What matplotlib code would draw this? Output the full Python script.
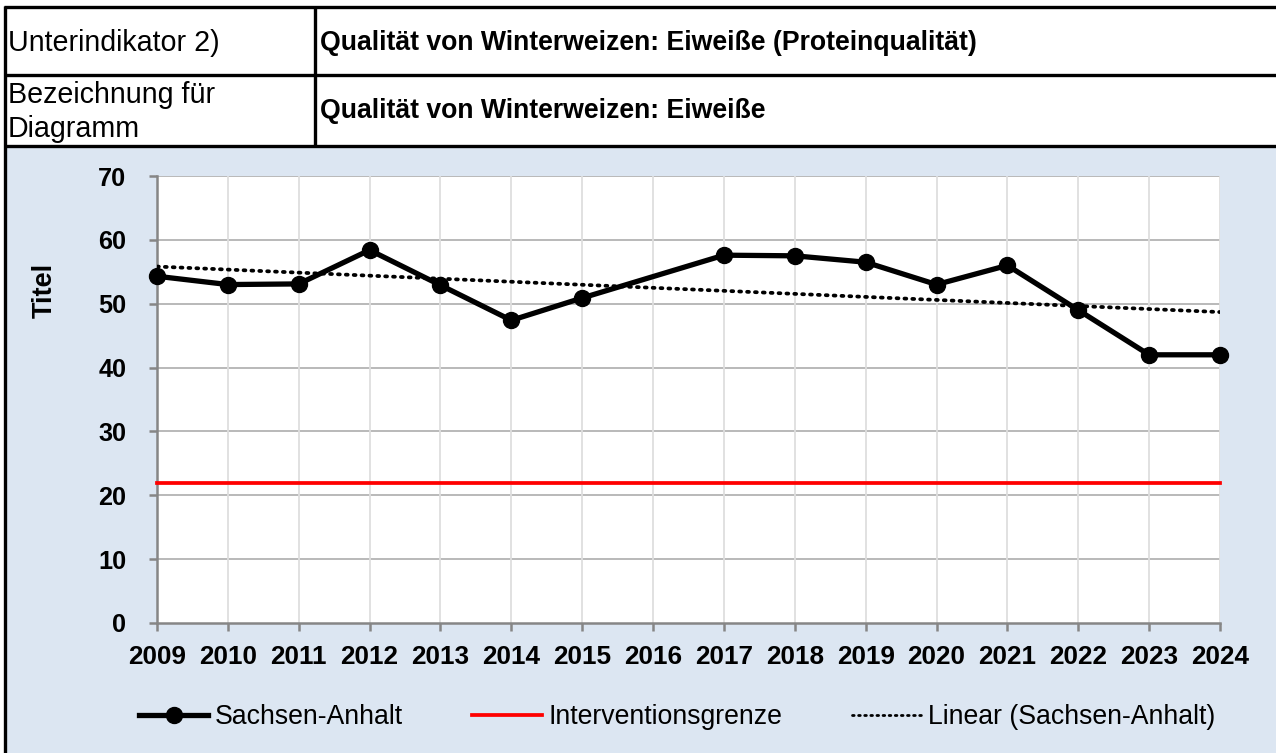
import numpy as np
import matplotlib
matplotlib.use("Agg")
import matplotlib.pyplot as plt
from matplotlib.lines import Line2D

years = [2009, 2010, 2011, 2012, 2013, 2014, 2015, 2016, 2017, 2018, 2019, 2020, 2021, 2022, 2023, 2024]
sachsen_anhalt = [54.3, 53.0, 53.1, 58.4, 52.9, 47.4, 50.9, np.nan, 57.6, 57.5, 56.5, 53.0, 56.0, 49.0, 42.0, 42.0]
interventionsgrenze = [22.0] * 16
y_ticks = [0, 10, 20, 30, 40, 50, 60, 70]

row1_label = "Unterindikator 2)"
row1_value = "Qualität von Winterweizen: Eiweiße (Proteinqualität)"
row2_label = "Bezeichnung für\nDiagramm"
row2_value = "Qualität von Winterweizen: Eiweiße"
y_title = "Titel"
legend_labels = ["Sachsen-Anhalt", "Interventionsgrenze", "Linear (Sachsen-Anhalt)"]

plt.rcParams['font.family'] = ['Liberation Sans', 'DejaVu Sans']

W, H = 1276, 753
fig = plt.figure(figsize=(W / 100, H / 100), dpi=100)

def fx(px):
    return px / W

def fy(py):
    return 1 - py / H

# background of chart area
bg = plt.Rectangle((fx(6), 0), 1 - fx(6), fy(147), transform=fig.transFigure,
                   facecolor="#dce6f2", edgecolor="none", zorder=-5)
fig.patches.append(bg)

# table borders
lw_tab = 2.4
for yy in [7, 75, 146]:
    fig.add_artist(Line2D([fx(4), 1], [fy(yy), fy(yy)], color="black", lw=lw_tab, solid_capstyle="butt"))
fig.add_artist(Line2D([fx(5), fx(5)], [fy(6), 0], color="black", lw=lw_tab, solid_capstyle="butt"))
fig.add_artist(Line2D([fx(315), fx(315)], [fy(6), fy(147)], color="black", lw=lw_tab, solid_capstyle="butt"))

fig.text(fx(8), fy(43), row1_label, fontsize=20.6, va="center", ha="left")
fig.text(fx(8), fy(112), row2_label, fontsize=20.6, va="center", ha="left", linespacing=1.3)
fig.text(fx(320), fy(43), row1_value, fontsize=19.2, va="center", ha="left", fontweight="bold")
fig.text(fx(320), fy(111), row2_value, fontsize=19.2, va="center", ha="left", fontweight="bold")

# axes
ax = fig.add_axes([fx(157), fy(623), fx(1220) - fx(157), fy(176) - fy(623)])
ax.set_facecolor("white")
x = np.array(years, dtype=float)
y = np.array(sachsen_anhalt, dtype=float)
mask = ~np.isnan(y)

ax.plot(x[mask], y[mask], color="black", lw=3.8, marker="o", markersize=11.5, zorder=5, clip_on=False)
ax.plot(x, interventionsgrenze, color="#ff0000", lw=2.7, zorder=4, clip_on=False)
coef = np.polyfit(x[mask], y[mask], 1)
trend = np.polyval(coef, x)
ax.plot(x, trend, color="black", lw=2.7, linestyle=(0, (0.5, 1.6)), dash_capstyle="round", zorder=4)

ax.set_xlim(years[0], years[-1])
ax.set_ylim(0, 70)
ax.set_xticks(years)
ax.set_xticklabels([str(v) for v in years], fontsize=18.8, fontweight="bold")
ax.set_yticks(y_ticks)
ax.set_yticklabels([str(v) for v in y_ticks], fontsize=18.2, fontweight="bold")

for yy in y_ticks[1:]:
    ax.axhline(yy, color="#b3b3b3", lw=1.3, zorder=1)
for xx in years[1:]:
    ax.axvline(xx, color="#dedede", lw=1.3, zorder=1)

for s in ["top", "right"]:
    ax.spines[s].set_visible(False)
for s in ["left", "bottom"]:
    ax.spines[s].set_color("#868686")
    ax.spines[s].set_linewidth(1.8)
ax.tick_params(axis="both", direction="out", color="#868686", width=1.8, length=5.5)
ax.tick_params(axis="x", pad=10)
ax.tick_params(axis="y", pad=16.5)

fig.text(fx(45), fy(290), y_title, rotation=90, fontsize=19.5, fontweight="bold", ha="center", va="center")

# legend
handles = [
    Line2D([], [], color="black", lw=3.8, marker="o", markersize=11.5),
    Line2D([], [], color="#ff0000", lw=2.7),
    Line2D([], [], color="black", lw=2.0, linestyle=(0, (0.6, 1.6)), dash_capstyle="round"),
]
leg = fig.legend(handles, legend_labels, loc="center", bbox_to_anchor=(fx(677), fy(717)), ncol=3,
                 frameon=False, fontsize=19.2, handlelength=2.6, handletextpad=0.25, columnspacing=2.6)

fig.savefig("out.png", dpi=100)
